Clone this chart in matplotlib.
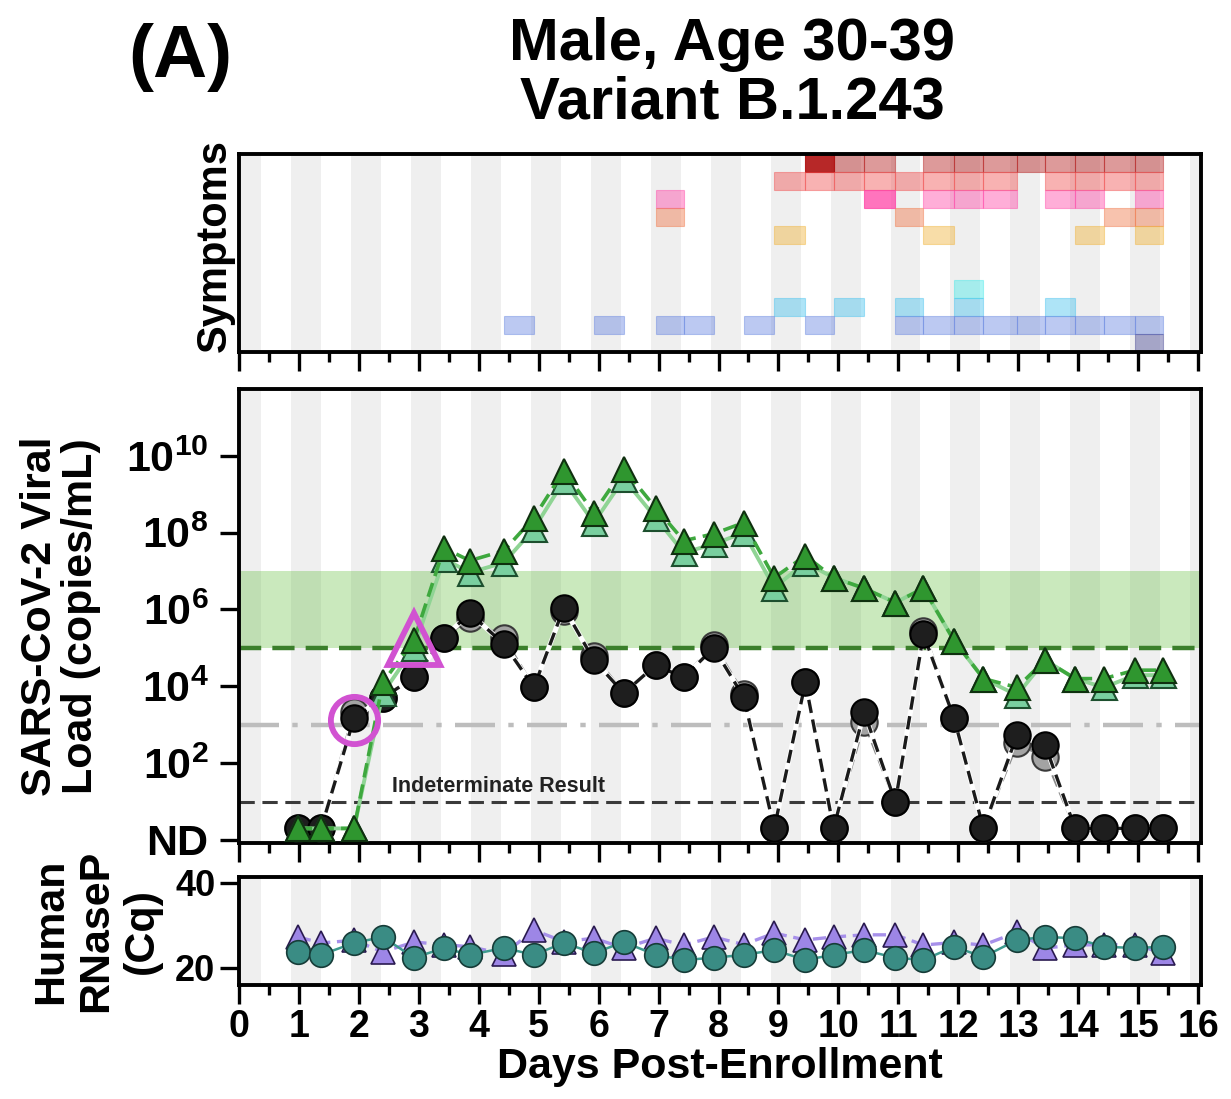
import numpy as np
import matplotlib
matplotlib.use('Agg')
import matplotlib.pyplot as plt
from matplotlib.patches import Rectangle
from matplotlib.ticker import MultipleLocator, NullLocator

plt.rcParams['font.family'] = ['Liberation Sans', 'DejaVu Sans']
plt.rcParams['font.weight'] = 'bold'
plt.rcParams['mathtext.fontset'] = 'custom'
plt.rcParams['mathtext.rm'] = 'Liberation Sans:bold'
plt.rcParams['mathtext.bf'] = 'Liberation Sans:bold'
plt.rcParams['mathtext.it'] = 'Liberation Sans:bold'
plt.rcParams['mathtext.default'] = 'regular'

# ---------------- data ----------------
ND = None
days = [0.98, 1.37, 1.92, 2.40, 2.92, 3.42, 3.85, 4.42, 4.92, 5.42,
        5.92, 6.42, 6.95, 7.42, 7.92, 8.42, 8.93, 9.45, 9.92, 10.43,
        10.95, 11.42, 11.93, 12.42, 12.98, 13.45, 13.95, 14.43, 14.95, 15.42]

# log10 copies/mL, saliva (circles) – two replicates
saliva_rep1 = [ND, ND, 3.17, 3.70, 4.23, 5.27, 5.90, 5.10, 3.97, 6.05,
               4.68, 3.82, 4.55, 4.23, 5.00, 3.72, ND, 4.10, ND, 3.33,
               0.99, 5.35, 3.17, ND, 2.73, 2.47, ND, ND, ND, ND]
saliva_rep2 = [ND, ND, 3.32, 3.70, 4.23, 5.27, 5.78, 5.25, 3.97, 5.95,
               4.80, 3.82, 4.55, 4.23, 5.08, 3.80, ND, 4.10, ND, 3.07,
               0.99, 5.45, 3.17, ND, 2.52, 2.16, ND, ND, ND, ND]
# log10 copies/mL, nasal (triangles) – two replicates
nasal_rep1 = [ND, ND, ND, 4.10, 5.20, 7.60, 7.27, 7.53, 8.39, 9.61,
              8.52, 9.66, 8.65, 7.79, 7.97, 8.26, 6.83, 7.40, 6.83, 6.55,
              6.18, 6.55, 5.19, 4.20, 3.97, 4.68, 4.20, 4.20, 4.42, 4.42]
nasal_rep2 = [ND, ND, ND, 3.82, 5.00, 7.32, 6.96, 7.22, 8.10, 9.35,
              8.26, 9.40, 8.39, 7.48, 7.70, 8.00, 6.57, 7.22, 6.83, 6.55,
              6.18, 6.55, 5.19, 4.20, 3.77, 4.68, 4.20, 3.97, 4.29, 4.29]

# Human RNaseP Cq
rnasep_saliva = [23.8, 23.1, 25.9, 27.3, 22.4, 24.7, 23.1, 24.7, 23.1, 25.9,
                 23.5, 26.1, 23.1, 21.9, 22.4, 23.1, 24.2, 21.9, 23.1, 24.2,
                 22.4, 21.9, 25.0, 22.6, 26.6, 27.3, 27.0, 25.0, 24.7, 25.0]
rnasep_nasal = [27.3, 25.9, 26.5, 23.8, 26.1, 25.5, 25.0, 23.3, 28.9, 26.2,
                27.0, 24.7, 27.0, 25.4, 27.3, 25.5, 28.2, 26.6, 27.3, 27.8,
                27.8, 25.4, 26.0, 25.4, 28.4, 24.7, 25.4, 25.5, 25.5, 23.5]

# symptom rows: sample indices (cell ends at that sample) and severity overrides
sym_row0 = [18, 19, 20, 22, 23, 24, 25, 26, 27, 28, 29]
sym_row0_severe = [18]
sym_row1 = [17, 18, 19, 20, 21, 22, 23, 24, 26, 27, 28, 29]
sym_row2 = [13, 20, 22, 23, 24, 26, 27, 29]
sym_row2_moderate = [20]
sym_row3 = [13, 21, 28, 29]
sym_row4 = [17, 22, 27, 29]
sym_row7 = [23]
sym_row8 = [17, 19, 21, 23, 26]
sym_row9 = [8, 11, 13, 14, 16, 18, 21, 22, 23, 24, 25, 26, 27, 28, 29]
sym_row10 = [29]

nd_level = 0.3          # log10 position where ND results are drawn
band_low, band_high = 5, 7
threshold_high = 5
threshold_mid = 3
threshold_indet = 1

# ---------------- figure ----------------
W, H = 1231, 1099
fig = plt.figure(figsize=(W / 100, H / 100), dpi=100)


def rect(x0, y0, x1, y1):
    return [x0 / W, 1 - y1 / H, (x1 - x0) / W, (y1 - y0) / H]


ax_sym = fig.add_axes(rect(239, 154, 1201, 352))
ax_vl = fig.add_axes(rect(239, 389, 1201, 843))
ax_rn = fig.add_axes(rect(239, 877, 1201, 985))

XMAX = 16.05
for ax in (ax_sym, ax_vl, ax_rn):
    ax.set_xlim(0, XMAX)
    for n in range(0, 17):
        ax.axvspan(n - 0.13, n + 0.37, color='#efefef', lw=0, zorder=0)
    for s in ax.spines.values():
        s.set_linewidth(2.8)
        s.set_color('black')
    ax.xaxis.set_major_locator(MultipleLocator(1))
    ax.xaxis.set_minor_locator(MultipleLocator(0.5))
    ax.tick_params(axis='x', which='major', direction='out', length=14,
                   width=2.4, labelsize=27, pad=3)
    ax.tick_params(axis='x', which='minor', direction='out', length=7, width=2.4)
    ax.tick_params(axis='y', which='major', direction='out', length=14, width=2.4)
    ax.set_facecolor('white')

ax_sym.tick_params(axis='x', labelbottom=False)
ax_vl.tick_params(axis='x', labelbottom=False)

# ---------------- symptoms ----------------
ax_sym.set_ylim(11, 0)
ax_sym.set_yticks([])
sym_specs = [
    (0, sym_row0, '#b01010', sym_row0_severe, []),
    (1, sym_row1, '#f04848', [], []),
    (2, sym_row2, '#ff3fa4', [], sym_row2_moderate),
    (3, sym_row3, '#f07040', [], []),
    (4, sym_row4, '#f0b030', [], []),
    (7, sym_row7, '#40e8e8', [], []),
    (8, sym_row8, '#40c0ee', [], []),
    (9, sym_row9, '#6080e0', [], []),
    (10, sym_row10, '#404090', [], []),
]
for row, idxs, col, severe, moderate in sym_specs:
    for i in idxs:
        t0, t1 = days[i - 1], days[i]
        a = 0.42
        if i in moderate:
            a = 0.72
        if i in severe:
            a = 0.9
        ax_sym.add_patch(Rectangle((t0, row), t1 - t0, 1, facecolor=col,
                                   alpha=a, edgecolor=col, lw=0.8, zorder=2))
ax_sym.set_ylabel('Symptoms', fontsize=30, fontweight='bold')
ax_sym.yaxis.set_label_coords(-0.004, 0.54)

# ---------------- viral load ----------------
def to_plot(vals):
    return np.array([10 ** nd_level if v is None else 10 ** v for v in vals])


ax_vl.set_yscale('log')
ax_vl.set_ylim(10 ** -0.08, 10 ** 11.74)
ax_vl.yaxis.set_minor_locator(NullLocator())
ax_vl.set_yticks([1, 1e2, 1e4, 1e6, 1e8, 1e10])
ax_vl.set_yticklabels(['ND', r'$10^{2}$', r'$10^{4}$', r'$10^{6}$',
                       r'$10^{8}$', r'$10^{10}$'], fontsize=31)
ax_vl.tick_params(axis='y', pad=8)

ax_vl.axhspan(10 ** band_low, 10 ** band_high, color='#6cc24a', alpha=0.36,
              lw=0, zorder=1)
ax_vl.axhline(10 ** threshold_high, color='#3b7f2b', lw=3.2, ls=(0, (5, 2.5)),
              zorder=2)
ax_vl.axhline(10 ** threshold_mid, color='#bdbdbd', lw=3.2,
              ls=(0, (9, 3, 1.2, 3)), zorder=2)
ax_vl.axhline(10 ** threshold_indet, color='#3a3a3a', lw=2.2,
              ls=(0, (5, 2.5)), zorder=2)
ax_vl.text(2.55, 10 ** 1.12, 'Indeterminate Result', fontsize=15.5,
           fontweight='bold', color='#222222', va='bottom', ha='left', zorder=3)

t = np.array(days)
s2 = to_plot(saliva_rep2)
s1 = to_plot(saliva_rep1)
n2 = to_plot(nasal_rep2)
n1 = to_plot(nasal_rep1)

ax_vl.plot(t, s2, color='#8a8a8a', lw=2.2, ls=(0, (4, 2)), zorder=3)
ax_vl.plot(t, s2, 'o', ms=19, mfc='#a3a3a3', mec='#3a3a3a', mew=1.5, zorder=4)
ax_vl.plot(t, s1, color='white', lw=3.6, zorder=5)
ax_vl.plot(t, s1, color='#1a1a1a', lw=2.4, ls=(0, (4, 2)), zorder=5)
ax_vl.plot(t, s1, 'o', ms=19, mfc='#1e1e1e', mec='#000000', mew=1.5, zorder=6)

ax_vl.plot(t, n2, color='#8fd494', lw=2.8, zorder=7)
ax_vl.plot(t, n2, '^', ms=18, mfc='#79cf9f', mec='#1d4f2e', mew=1.5, zorder=7)
ax_vl.plot(t, n1, color='#3ea83e', lw=2.6, ls=(0, (4, 2)), zorder=8)
ax_vl.plot(t, n1, '^', ms=18, mfc='#2f962f', mec='#0f300f', mew=1.5, zorder=8)

# first-positive annotations
ax_vl.plot(days[2], 10 ** 3.12, 'o', ms=34, mfc='none', mec='#d152d1', mew=4.2,
           zorder=10)
ax_vl.plot(days[4], 10 ** 5.22, '^', ms=38, mfc='none', mec='#d152d1', mew=4.2,
           zorder=10)

ax_vl.set_ylabel('SARS-CoV-2 Viral\nLoad (copies/mL)', fontsize=31,
                 fontweight='bold', linespacing=1.05)
ax_vl.yaxis.set_label_coords(-0.143, 0.5)

# ---------------- RNaseP ----------------
ax_rn.set_ylim(16, 41.4)
ax_rn.set_yticks([20, 40])
ax_rn.tick_params(axis='y', labelsize=26, pad=3)
ax_rn.plot(t, rnasep_nasal, color='#a790ea', lw=2.4, ls=(0, (4, 2)), zorder=3)
ax_rn.plot(t, rnasep_nasal, '^', ms=17, mfc='#9d86e6', mec='#2a1a50', mew=1.2,
           zorder=4)
ax_rn.plot(t, rnasep_saliva, color='#3d9a8e', lw=1.8, zorder=5)
ax_rn.plot(t, rnasep_saliva, 'o', ms=17, mfc='#3a8c84', mec='#163c38', mew=1.2,
           zorder=6)
ax_rn.set_ylabel('Human\nRNaseP\n(Cq)', fontsize=31, fontweight='bold',
                 linespacing=1.18)
ax_rn.yaxis.set_label_coords(-0.08, 0.5)
ax_rn.set_xlabel('Days Post-Enrollment', fontsize=31, fontweight='bold',
                 labelpad=2)

# ---------------- titles ----------------
fig.text(732 / W, 1 - 45 / H, 'Male, Age 30-39', fontsize=43, fontweight='bold',
         ha='center', va='center')
fig.text(732 / W, 1 - 103 / H, 'Variant B.1.243', fontsize=43, fontweight='bold',
         ha='center', va='center')
fig.text(180 / W, 1 - 57 / H, '(A)', fontsize=54, fontweight='bold',
         ha='center', va='center')

fig.savefig('out.png', dpi=100)
